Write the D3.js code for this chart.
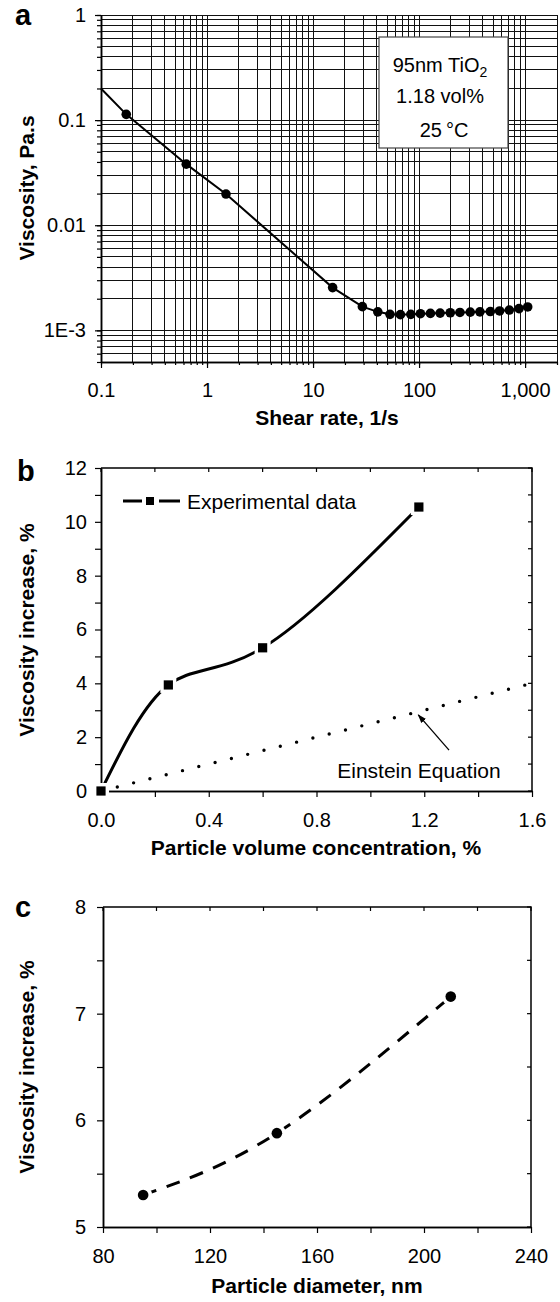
<!DOCTYPE html>
<html>
<head>
<meta charset="utf-8">
<script src="https://cdn.jsdelivr.net/npm/d3@7"></script>
<style>
  body { margin: 0; background: #fff; }
  text { font-family: "Liberation Sans", Arial, Helvetica, sans-serif; fill: #000; }
</style>
</head>
<body>
<svg id="paper"></svg>
<script>
// ---- panel a: viscosity vs shear rate
let shearRate = [0.173, 0.637, 1.51, 15.3, 29.2, 40.8, 53.2, 66.7, 83.6, 103, 128, 158, 197, 243, 304, 375, 470, 575, 710, 877, 1058];
let viscosity = [0.1135, 0.0381, 0.0198, 0.00255, 0.00168, 0.00150, 0.00142, 0.00141, 0.00142, 0.00144, 0.00145, 0.00146, 0.00147, 0.00148, 0.00149, 0.00150, 0.00151, 0.00153, 0.00156, 0.00161, 0.00167];
let lineStartRate = [0.1];
let lineStartVisc = [0.2];
let aXTicks = [0.1, 1, 10, 100, 1000];
let aXTickLabels = ["0.1", "1", "10", "100", "1,000"];
let aYTicks = [1, 0.1, 0.01, 0.001];
let aYTickLabels = ["1", "0.1", "0.01", "1E-3"];

// ---- panel b: viscosity increase vs volume concentration
let volConc = [0, 0.25, 0.6, 1.18];
let volIncrease = [0, 3.94, 5.32, 10.55];
let einsteinConc = [0, 1.6];
let einsteinIncrease = [0, 4.0];
let bXTicks = [0, 0.4, 0.8, 1.2, 1.6];
let bXMinor = [0.2, 0.6, 1.0, 1.4];
let bYTicks = [0, 2, 4, 6, 8, 10, 12];
let bYMinor = [1, 3, 5, 7, 9, 11];

// ---- panel c: viscosity increase vs particle diameter
let diameter = [95, 145, 210];
let diamIncrease = [5.30, 5.88, 7.16];
let cXTicks = [80, 120, 160, 200, 240];
let cXMinor = [100, 140, 180, 220];
let cYTicks = [5, 6, 7, 8];
let cYMinor = [5.5, 6.5, 7.5];

let svg = d3.select("#paper").attr("width", 560).attr("height", 1302);

function styleAxis(g, size) {
    g.attr("font-size", size).attr("font-family", null);
    g.select(".domain").attr("stroke-width", 1.5);
    g.selectAll(".tick line").attr("stroke-width", 1.2);
}

function yTitle(x, y, label) {
    svg.append("text")
        .attr("transform", "translate(" + x + "," + y + ") rotate(-90)")
        .attr("text-anchor", "middle")
        .attr("font-size", 21)
        .attr("font-weight", "bold")
        .text(label);
}

function xTitle(x, y, label) {
    svg.append("text")
        .attr("x", x).attr("y", y)
        .attr("text-anchor", "middle")
        .attr("font-size", 21)
        .attr("font-weight", "bold")
        .text(label);
}

function panelLetter(x, y, label) {
    svg.append("text")
        .attr("x", x).attr("y", y)
        .attr("font-size", 29)
        .attr("font-weight", "bold")
        .text(label);
}

// mirror ticks pointing inward on top and right borders, plus the outward ticks
function frame(g, x, y, xMajor, xMinor, yMajor, yMinor, xFmt, yFmt, xPad, yPad) {
    let [x0, x1] = x.range(), [y0, y1] = y.range();
    g.append("g").attr("transform", "translate(0," + y0 + ")")
        .call(d3.axisBottom(x).tickValues(xMinor).tickSize(6).tickFormat("").tickSizeOuter(0))
        .call(s => styleAxis(s, 20));
    g.append("g").attr("transform", "translate(0," + y0 + ")")
        .call(d3.axisBottom(x).tickValues(xMajor).tickSize(6).tickPadding(xPad).tickFormat(xFmt).tickSizeOuter(0))
        .call(s => styleAxis(s, 20));
    g.append("g").attr("transform", "translate(" + x0 + ",0)")
        .call(d3.axisLeft(y).tickValues(yMinor).tickSize(6).tickFormat("").tickSizeOuter(0))
        .call(s => styleAxis(s, 20));
    g.append("g").attr("transform", "translate(" + x0 + ",0)")
        .call(d3.axisLeft(y).tickValues(yMajor).tickSize(6).tickPadding(yPad).tickFormat(yFmt).tickSizeOuter(0))
        .call(s => styleAxis(s, 20));
    g.append("path")
        .attr("d", "M" + x0 + "," + y1 + "H" + x1 + "V" + y0)
        .attr("fill", "none").attr("stroke", "#000").attr("stroke-width", 1.5);
    g.selectAll(".topTick").data(xMajor.concat(xMinor)).enter().append("line")
        .attr("x1", d => x(d)).attr("x2", d => x(d))
        .attr("y1", y1).attr("y2", y1 + 4)
        .attr("stroke", "#000").attr("stroke-width", 1.2);
    g.selectAll(".rightTick").data(yMajor.concat(yMinor)).enter().append("line")
        .attr("x1", x1).attr("x2", x1 - 4)
        .attr("y1", d => y(d)).attr("y2", d => y(d))
        .attr("stroke", "#000").attr("stroke-width", 1.2);
}

// ================= panel a =================
let ax = d3.scaleLog().domain([0.1, 2000]).range([101, 557]);
let ay = d3.scaleLog().domain([5e-4, 1]).range([362, 15]);
let ga = svg.append("g");

ga.selectAll(".vgrid").data(ax.ticks()).enter().append("line")
    .attr("x1", d => ax(d)).attr("x2", d => ax(d))
    .attr("y1", 362).attr("y2", 15)
    .attr("stroke", "#111").attr("stroke-width", 1)
    .attr("shape-rendering", "crispEdges");
ga.selectAll(".hgrid").data(ay.ticks()).enter().append("line")
    .attr("x1", 101).attr("x2", 557)
    .attr("y1", d => ay(d)).attr("y2", d => ay(d))
    .attr("stroke", "#111").attr("stroke-width", 1)
    .attr("shape-rendering", "crispEdges");

ga.append("g").attr("transform", "translate(0,362)")
    .call(d3.axisBottom(ax).tickValues(ax.ticks()).tickSize(3).tickFormat("").tickSizeOuter(0))
    .call(s => styleAxis(s, 20));
ga.append("g").attr("transform", "translate(0,362)")
    .call(d3.axisBottom(ax).tickValues(aXTicks).tickSize(6).tickPadding(15)
        .tickFormat((d, i) => aXTickLabels[i]).tickSizeOuter(0))
    .call(s => styleAxis(s, 20));
ga.append("g").attr("transform", "translate(101,0)")
    .call(d3.axisLeft(ay).tickValues(ay.ticks()).tickSize(4).tickFormat("").tickSizeOuter(0))
    .call(s => styleAxis(s, 20));
ga.append("g").attr("transform", "translate(101,0)")
    .call(d3.axisLeft(ay).tickValues(aYTicks).tickSize(6).tickPadding(9)
        .tickFormat((d, i) => aYTickLabels[i]).tickSizeOuter(0))
    .call(s => styleAxis(s, 20));

let aLineX = lineStartRate.concat(shearRate);
let aLineY = lineStartVisc.concat(viscosity);
ga.append("path")
    .datum(d3.range(aLineX.length))
    .attr("d", d3.line().x(i => ax(aLineX[i])).y(i => ay(aLineY[i])))
    .attr("fill", "none").attr("stroke", "#000").attr("stroke-width", 2);
ga.selectAll(".dot").data(shearRate).enter().append("circle")
    .attr("cx", d => ax(d))
    .attr("cy", (d, i) => ay(viscosity[i]))
    .attr("r", 4.8)
    .attr("fill", "#000");

// info box
ga.append("rect")
    .attr("x", 379).attr("y", 37).attr("width", 129).attr("height", 111)
    .attr("fill", "#fff").attr("stroke", "#444").attr("stroke-width", 1.2);
let boxText = ga.append("text").attr("x", 440).attr("y", 72).attr("font-size", 20).attr("text-anchor", "middle");
boxText.append("tspan").text("95nm TiO");
boxText.append("tspan").attr("font-size", 14).attr("dy", 5).text("2");
ga.append("text").attr("x", 440).attr("y", 103).attr("font-size", 20).attr("text-anchor", "middle").text("1.18 vol%");
ga.append("text").attr("x", 444).attr("y", 137).attr("font-size", 20).attr("text-anchor", "middle").text("25\u2009°C");

panelLetter(15, 25, "a");
yTitle(34, 188, "Viscosity, Pa.s");
xTitle(327, 425, "Shear rate, 1/s");

// ================= panel b =================
let bx = d3.scaleLinear().domain([0, 1.6]).range([101, 532]);
let by = d3.scaleLinear().domain([0, 12]).range([791, 468]);
let gb = svg.append("g");

frame(gb, bx, by, bXTicks, bXMinor, bYTicks, bYMinor, d3.format(".1f"), d3.format("d"), 16, 8);

gb.append("path")
    .datum(d3.range(einsteinConc.length))
    .attr("d", d3.line().x(i => bx(einsteinConc[i])).y(i => by(einsteinIncrease[i])))
    .attr("fill", "none").attr("stroke", "#000").attr("stroke-width", 3.4)
    .attr("stroke-linecap", "round").attr("stroke-dasharray", "0,16.8");

gb.append("path")
    .datum(d3.range(volConc.length))
    .attr("d", d3.line().curve(d3.curveNatural).x(i => bx(volConc[i])).y(i => by(volIncrease[i])))
    .attr("fill", "none").attr("stroke", "#000").attr("stroke-width", 3);

gb.selectAll(".halo").data(volConc).enter().append("rect")
    .attr("x", d => bx(d) - 8).attr("y", (d, i) => by(volIncrease[i]) - 8)
    .attr("width", 16).attr("height", 16).attr("fill", "#fff");
gb.selectAll(".sq").data(volConc).enter().append("rect")
    .attr("x", d => bx(d) - 4.6).attr("y", (d, i) => by(volIncrease[i]) - 4.6)
    .attr("width", 9.2).attr("height", 9.2).attr("fill", "#000");

// legend
let legY = 501;
gb.append("line").attr("x1", 123).attr("x2", 142).attr("y1", legY).attr("y2", legY)
    .attr("stroke", "#000").attr("stroke-width", 3);
gb.append("line").attr("x1", 159).attr("x2", 180).attr("y1", legY).attr("y2", legY)
    .attr("stroke", "#000").attr("stroke-width", 3);
gb.append("rect").attr("x", 146).attr("y", legY - 4).attr("width", 8).attr("height", 8).attr("fill", "#000");
gb.append("text").attr("x", 187).attr("y", legY + 7.5).attr("font-size", 21).text("Experimental data");

// Einstein annotation
svg.append("defs").append("marker")
    .attr("id", "arrow").attr("viewBox", "0 0 10 10")
    .attr("refX", 9).attr("refY", 5)
    .attr("markerWidth", 7).attr("markerHeight", 7)
    .attr("orient", "auto")
    .append("path").attr("d", "M0,1.5L10,5L0,8.5Z").attr("fill", "#000");
gb.append("line")
    .attr("x1", bx(1.292)).attr("y1", by(1.52))
    .attr("x2", bx(1.178)).attr("y2", by(2.83))
    .attr("stroke", "#000").attr("stroke-width", 1.3)
    .attr("marker-end", "url(#arrow)");
gb.append("text").attr("x", bx(0.877)).attr("y", by(0.5)).attr("font-size", 21).text("Einstein Equation");

panelLetter(17, 481, "b");
yTitle(34, 630, "Viscosity increase, %");
xTitle(316, 855, "Particle volume concentration, %");

// ================= panel c =================
let cx = d3.scaleLinear().domain([80, 240]).range([103, 531]);
let cy = d3.scaleLinear().domain([5, 8]).range([1227, 907]);
let gc = svg.append("g");

frame(gc, cx, cy, cXTicks, cXMinor, cYTicks, cYMinor, d3.format("d"), d3.format("d"), 16, 11);

gc.append("path")
    .datum(d3.range(diameter.length))
    .attr("d", d3.line().curve(d3.curveNatural).x(i => cx(diameter[i])).y(i => cy(diamIncrease[i])))
    .attr("fill", "none").attr("stroke", "#000").attr("stroke-width", 3)
    .attr("stroke-dasharray", "14,11");
gc.selectAll(".halo").data(diameter).enter().append("circle")
    .attr("cx", d => cx(d)).attr("cy", (d, i) => cy(diamIncrease[i]))
    .attr("r", 9).attr("fill", "#fff");
gc.selectAll(".dot").data(diameter).enter().append("circle")
    .attr("cx", d => cx(d)).attr("cy", (d, i) => cy(diamIncrease[i]))
    .attr("r", 5.3).attr("fill", "#000");

panelLetter(15, 917, "c");
yTitle(34, 1067, "Viscosity increase, %");
xTitle(317, 1293, "Particle diameter, nm");
</script>
</body>
</html>
